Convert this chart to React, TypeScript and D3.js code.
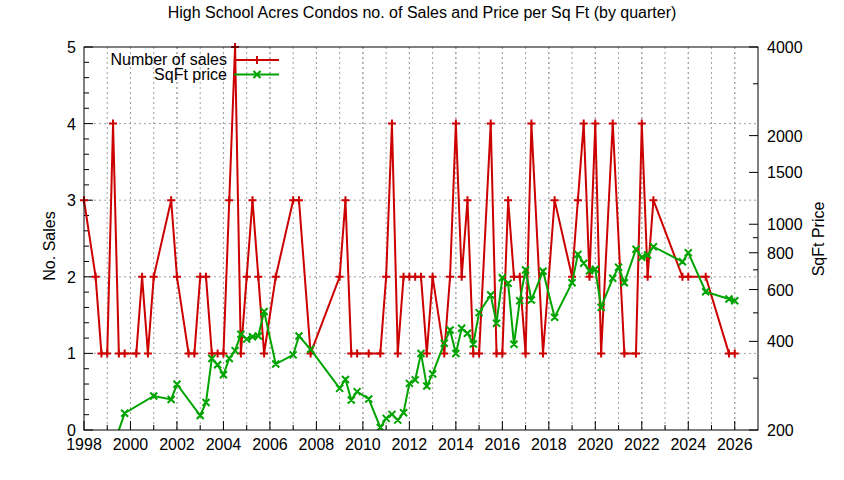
import * as d3 from "d3";

// quarterly number of sales (red)
const salesQuarters = [
  1998.0, 1998.5, 1998.75, 1999.0, 1999.25, 1999.5, 1999.75, 2000.25, 2000.5, 2000.75,
  2001.0, 2001.75, 2002.0, 2002.5, 2002.75, 2003.0, 2003.25, 2003.5, 2003.75, 2004.0,
  2004.25, 2004.5, 2004.75, 2005.0, 2005.25, 2005.5, 2005.75, 2006.25, 2007.0, 2007.25,
  2007.75, 2009.0, 2009.25, 2009.5, 2009.75, 2010.25, 2010.75, 2011.0, 2011.25, 2011.5,
  2011.75, 2012.0, 2012.25, 2012.5, 2012.75, 2013.0, 2013.5, 2013.75, 2014.0, 2014.25,
  2014.5, 2014.75, 2015.0, 2015.5, 2015.75, 2016.0, 2016.25, 2016.5, 2016.75, 2017.0,
  2017.25, 2017.75, 2018.25, 2019.0, 2019.25, 2019.5, 2019.75, 2020.0, 2020.25, 2020.75,
  2021.25, 2021.75, 2022.0, 2022.25, 2022.5, 2023.75, 2024.0, 2024.75, 2025.75, 2026.0,
];
const salesCounts = [
  3, 2, 1, 1, 4, 1, 1, 1, 2, 1,
  2, 3, 2, 1, 1, 2, 2, 1, 1, 1,
  3, 5, 1, 2, 3, 2, 1, 2, 3, 3,
  1, 2, 3, 1, 1, 1, 1, 2, 4, 1,
  2, 2, 2, 2, 1, 2, 1, 2, 4, 2,
  3, 1, 1, 4, 1, 1, 3, 2, 2, 1,
  4, 1, 3, 2, 3, 4, 2, 4, 1, 4,
  1, 1, 4, 2, 3, 2, 2, 2, 1, 1,
];

// quarterly price per square foot (green)
const priceQuarters = [
  1999.25, 1999.75, 2001.0, 2001.75, 2002.0, 2003.0, 2003.25, 2003.5, 2003.75, 2004.0,
  2004.25, 2004.5, 2004.75, 2005.0, 2005.25, 2005.5, 2005.75, 2006.25, 2007.0, 2007.25,
  2007.75, 2009.0, 2009.25, 2009.5, 2009.75, 2010.25, 2010.75, 2011.0, 2011.25, 2011.5,
  2011.75, 2012.0, 2012.25, 2012.5, 2012.75, 2013.0, 2013.5, 2013.75, 2014.0, 2014.25,
  2014.5, 2014.75, 2015.0, 2015.5, 2015.75, 2016.0, 2016.25, 2016.5, 2016.75, 2017.0,
  2017.25, 2017.75, 2018.25, 2019.0, 2019.25, 2019.5, 2019.75, 2020.0, 2020.25, 2020.75,
  2021.0, 2021.25, 2021.75, 2022.0, 2022.25, 2022.5, 2023.75, 2024.0, 2024.75, 2025.75,
  2026.0,
];
const pricePerSqFt = [
  175, 228, 261, 254, 286, 224, 248, 350, 333, 308,
  350, 372, 423, 407, 415, 417, 505, 335, 360, 417,
  376, 277, 297, 253, 270, 255, 204, 219, 226, 216,
  229, 288, 296, 364, 282, 310, 394, 437, 364, 443,
  426, 392, 501, 575, 461, 658, 630, 391, 550, 699,
  553, 692, 483, 633, 790, 737, 695, 703, 522, 655,
  714, 633, 822, 772, 786, 839, 746, 800, 590, 557,
  550,
];

const salesTicks = [0, 1, 2, 3, 4, 5];
const priceTicks = [200, 400, 600, 800, 1000, 1500, 2000, 4000];
const priceMinorTicks = [300, 500, 700, 900, 3000];
const yearTicks = d3.range(1998, 2027, 2);
const yearMinorTicks = d3.range(1999, 2027, 1);

const W = 844;
const H = 480;
const left = 84;
const right = 758;
const top = 47;
const bottom = 430;
const RED = "#cc0000";
const GREEN = "#00a400";
const FONT = "'Liberation Sans', Arial, sans-serif";

export default function App() {
  const x = d3.scaleLinear().domain([1998, 2027]).range([left, right]);
  const y = d3.scaleLinear().domain([0, 5]).range([bottom, top]);
  const y2 = d3.scaleLog().domain([200, 4000]).range([bottom, top]);

  const sales = salesQuarters.map((q, i) => [q, salesCounts[i]] as [number, number]);
  const prices = priceQuarters.map((q, i) => [q, pricePerSqFt[i]] as [number, number]);

  const salesLine = d3
    .line<[number, number]>()
    .x((d) => x(d[0]))
    .y((d) => y(d[1]));
  const priceLine = d3
    .line<[number, number]>()
    .x((d) => x(d[0]))
    .y((d) => y2(d[1]));

  const plus = (cx: number, cy: number, s = 4) =>
    `M${cx - s},${cy}H${cx + s}M${cx},${cy - s}V${cy + s}`;
  const cross = (cx: number, cy: number, s = 3.5) =>
    `M${cx - s},${cy - s}L${cx + s},${cy + s}M${cx - s},${cy + s}L${cx + s},${cy - s}`;

  const minorSales = d3.range(0, 5.01, 0.2).filter((v) => Math.abs(v - Math.round(v)) > 0.01);

  return (
    <svg
      width={W}
      height={H}
      style={{ position: "absolute", left: 0, top: 0, background: "#fff" }}
      fontFamily={FONT}
      fontSize={16}
    >
      <defs>
        <clipPath id="plot-clip">
          <rect x={left} y={top} width={right - left} height={bottom - top} />
        </clipPath>
      </defs>
      <rect width={W} height={H} fill="#fff" />

      {/* grid */}
      <g stroke="#a0a0a0" strokeWidth={1} strokeDasharray="2,3">
        {[...yearTicks, ...yearMinorTicks]
          .filter((t) => t > 1998)
          .map((t) => (
            <line key={"gx" + t} x1={x(t)} x2={x(t)} y1={top} y2={bottom} />
          ))}
        {salesTicks
          .filter((t) => t > 0 && t < 5)
          .map((t) => (
            <line key={"gy" + t} x1={left} x2={right} y1={y(t)} y2={y(t)} />
          ))}
      </g>

      {/* ticks */}
      <g stroke="#000" strokeWidth={1}>
        {salesTicks.map((t) => (
          <line key={"ty" + t} x1={left} x2={left + 9} y1={y(t)} y2={y(t)} />
        ))}
        {minorSales.map((t) => (
          <line key={"tym" + t} x1={left} x2={left + 5} y1={y(t)} y2={y(t)} />
        ))}
        {priceTicks.map((t) => (
          <line key={"ty2" + t} x1={right - 9} x2={right} y1={y2(t)} y2={y2(t)} />
        ))}
        {priceMinorTicks.map((t) => (
          <line key={"ty2m" + t} x1={right - 5} x2={right} y1={y2(t)} y2={y2(t)} />
        ))}
        {yearTicks.map((t) => (
          <line key={"tx" + t} x1={x(t)} x2={x(t)} y1={bottom} y2={bottom - 9} />
        ))}
        {yearMinorTicks
          .filter((t) => t % 2 === 1)
          .map((t) => (
            <line key={"txm" + t} x1={x(t)} x2={x(t)} y1={bottom} y2={bottom - 5} />
          ))}
      </g>

      {/* tick labels */}
      <g fill="#000">
        {salesTicks.map((t) => (
          <text key={"ly" + t} x={left - 8} y={y(t) + 6} textAnchor="end">
            {t}
          </text>
        ))}
        {priceTicks.map((t) => (
          <text key={"ly2" + t} x={right + 9} y={y2(t) + 6}>
            {t}
          </text>
        ))}
        {yearTicks.map((t) => (
          <text key={"lx" + t} x={x(t)} y={bottom + 20} textAnchor="middle">
            {t}
          </text>
        ))}
      </g>

      {/* axis titles */}
      <text x={W / 2} y={18} textAnchor="middle">
        High School Acres Condos no. of Sales and Price per Sq Ft (by quarter)
      </text>
      <text transform="translate(55,246) rotate(-90)" textAnchor="middle">
        No. Sales
      </text>
      <text transform="translate(824,239) rotate(-90)" textAnchor="middle">
        SqFt Price
      </text>

      {/* sales series */}
      <path d={salesLine(sales) ?? ""} fill="none" stroke={RED} strokeWidth={2} strokeLinejoin="miter" />
      <path
        d={sales.map((d) => plus(x(d[0]), y(d[1]))).join("")}
        fill="none"
        stroke={RED}
        strokeWidth={2}
      />

      {/* price series */}
      <g clipPath="url(#plot-clip)">
        <path d={priceLine(prices) ?? ""} fill="none" stroke={GREEN} strokeWidth={2} />
        <path
          d={prices.map((d) => cross(x(d[0]), y2(d[1]))).join("")}
          fill="none"
          stroke={GREEN}
          strokeWidth={2}
        />
      </g>

      {/* border */}
      <rect
        x={left}
        y={top}
        width={right - left}
        height={bottom - top}
        fill="none"
        stroke="#000"
        strokeWidth={1}
      />

      {/* legend */}
      <text x={227} y={65} textAnchor="end">
        Number of sales
      </text>
      <line x1={234} x2={279} y1={60} y2={60} stroke={RED} strokeWidth={2} />
      <path d={plus(257, 60)} stroke={RED} strokeWidth={2} />
      <text x={227} y={80} textAnchor="end">
        SqFt price
      </text>
      <line x1={234} x2={279} y1={74.5} y2={74.5} stroke={GREEN} strokeWidth={2} />
      <path d={cross(257, 74.5)} stroke={GREEN} strokeWidth={2} />
    </svg>
  );
}
